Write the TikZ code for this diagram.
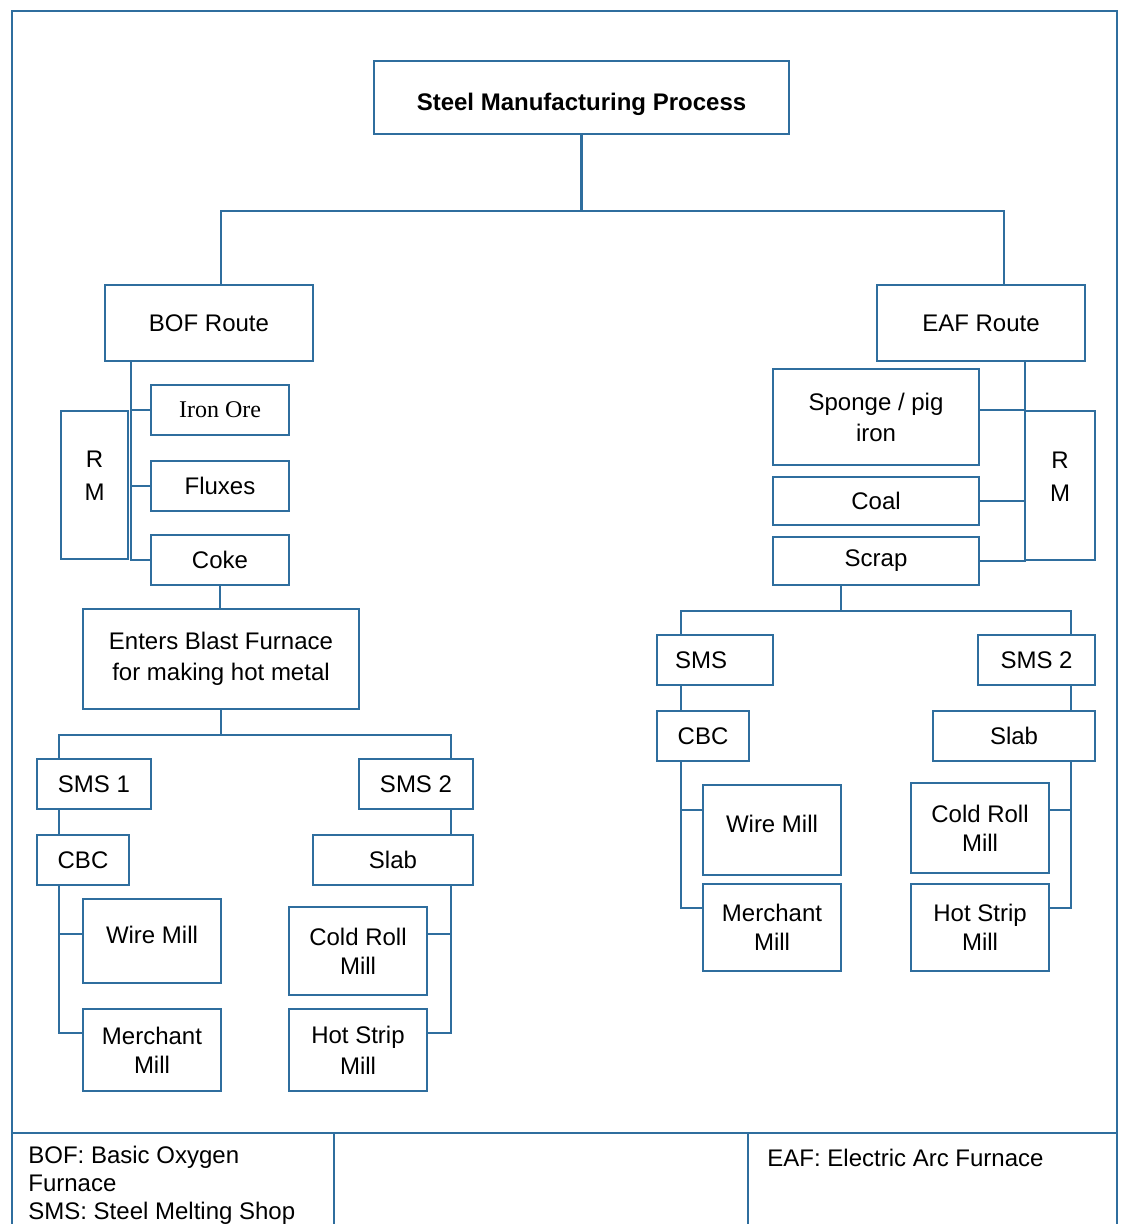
\documentclass[tikz,border=0pt]{standalone}
\usepackage{fontspec}
\setmainfont{Liberation Sans}
\newfontfamily\seriffont{Liberation Serif}
\definecolor{lineblue}{RGB}{47,110,158}
\newcommand\mybox[7][]{\node[box,#1,minimum width={(#4-#2)*0.5pt},minimum height={(#5-#3)*0.5pt}] (#6) at ({(#2+#4)/2},{(#3+#5)/2}) {#7};}
\begin{document}
\begin{tikzpicture}[x=0.5pt,y=-0.5pt,
  every node/.style={font=\fontsize{12}{14.5}\selectfont, text=black},
  box/.style={draw=lineblue, line width=1.1pt, inner sep=0pt, align=center},
  conn/.style={draw=lineblue, line width=1.1pt, line cap=rect},
  txt/.style={inner sep=0pt, align=left}]
\useasboundingbox (0,0) rectangle (1122,1224);
% outer frame and footer
\draw[conn] (12,1230) -- (12,11) -- (1117,11) -- (1117,1230);
\draw[conn] (12,1133) -- (1117,1133);
\draw[conn] (334,1133) -- (334,1230);
\draw[conn] (748,1133) -- (748,1230);
% boxes
\mybox{374}{61}{789}{134}{title}{\raisebox{-6.75pt}[0pt][0pt]{\bfseries Steel Manufacturing Process}}
\mybox{105}{285}{313}{361}{bof}{BOF Route}
\mybox{877}{285}{1085}{361}{eaf}{EAF Route}
\mybox[text depth=9pt]{61}{411}{128}{559}{rmL}{R\\[2pt]M}
\mybox{151}{385}{289}{435}{iron}{\seriffont Iron Ore}
\mybox{151}{461}{289}{511}{flux}{Fluxes}
\mybox{151}{535}{289}{585}{coke}{Coke}
\mybox{83}{609}{359}{709}{bf}{Enters Blast Furnace\\[1pt]for making hot metal}
\mybox{37}{759}{151}{809}{sms1}{SMS 1}
\mybox{359}{759}{473}{809}{sms2}{SMS 2}
\mybox{37}{835}{129}{885}{cbcL}{CBC}
\mybox{313}{835}{473}{885}{slabL}{Slab}
\mybox{83}{899}{221}{983}{wireL}{\raisebox{-1pt}[0pt][0pt]{Wire Mill}}
\mybox{83}{1009}{221}{1091}{merchL}{Merchant\\Mill}
\mybox{289}{907}{427}{995}{coldL}{Cold Roll\\Mill}
\mybox{289}{1009}{427}{1091}{hotL}{Hot Strip\\[1pt]Mill}
\mybox{773}{369}{979}{465}{sponge}{Sponge / pig\\[1pt]iron}
\mybox{773}{477}{979}{525}{coal}{Coal}
\mybox{773}{537}{979}{585}{scrap}{Scrap}
\mybox[text depth=9pt]{1025}{411}{1095}{560}{rmR}{R\\[2pt]M}
\mybox{657}{635}{773}{685}{smsR}{SMS\hspace*{14pt}}
\mybox{978}{635}{1095}{685}{sms2R}{SMS 2}
\mybox{657}{711}{749}{761}{cbcR}{CBC}
\mybox{933}{711}{1095}{761}{slabR}{Slab}
\mybox{703}{785}{841}{875}{wireR}{\raisebox{-1pt}[0pt][0pt]{Wire Mill}}
\mybox{703}{884}{841}{971}{merchR}{Merchant\\Mill}
\mybox{911}{783}{1049}{873}{coldR}{Cold Roll\\Mill}
\mybox{911}{884}{1049}{971}{hotR}{Hot Strip\\Mill}
% legend texts
\node[txt, anchor=base west, font=\fontsize{12}{14}\selectfont] (legL) at (28,1219) {BOF: Basic Oxygen\\Furnace\\SMS: Steel Melting Shop};
\node[txt, anchor=base west] (legR) at (767,1166) {EAF: Electric Arc Furnace};
% top connectors
\coordinate (jL) at (221,211);
\coordinate (jR) at (1004,211);
\draw[conn] (title.south) -- (title.south |- jL);
\draw[conn] (jL) -- (jR);
\draw[conn] (jL) -- (jL |- bof.north);
\draw[conn] (jR) -- (jR |- eaf.north);
% BOF raw materials
\coordinate (sL) at (131,0);
\draw[conn] (sL |- bof.south) -- (sL |- coke.west);
\draw[conn] (iron.west) -- (iron.west -| sL);
\draw[conn] (flux.west) -- (flux.west -| sL);
\draw[conn] (coke.west) -- (coke.west -| sL);
\draw[conn] (coke.south) -- (coke.south |- bf.north);
% BOF lower tree
\coordinate (bfL) at (59,735);
\coordinate (bfR) at (451,735);
\draw[conn] (bf.south) -- (bf.south |- bfL);
\draw[conn] (bfL) -- (bfR);
\draw[conn] (bfL) -- (bfL |- sms1.north);
\draw[conn] (bfR) -- (bfR |- sms2.north);
\draw[conn] (bfL |- sms1.south) -- (bfL |- cbcL.north);
\coordinate (wL) at (59,934);
\coordinate (mL) at (59,1033);
\draw[conn] (bfL |- cbcL.south) -- (mL) -- (mL -| merchL.west);
\draw[conn] (wL) -- (wL -| wireL.west);
\draw[conn] (bfR |- sms2.south) -- (bfR |- slabL.north);
\coordinate (cLR) at (451,934);
\coordinate (hLR) at (451,1033);
\draw[conn] (bfR |- slabL.south) -- (hLR) -- (hLR -| hotL.east);
\draw[conn] (cLR) -- (cLR -| coldL.east);
% EAF raw materials
\coordinate (sR) at (1025,0);
\draw[conn] (sR |- eaf.south) -- (sR |- rmR.south);
\draw[conn] (sponge.east |- rmR.north) -- (rmR.north west);
\draw[conn] (coal.east) -- (coal.east -| sR);
\draw[conn] (scrap.east) -- (scrap.east -| sR);
% EAF lower tree
\coordinate (scj) at (841,611);
\coordinate (sjL) at (681,611);
\coordinate (sjR) at (1071,611);
\draw[conn] (scj |- scrap.south) -- (scj);
\draw[conn] (sjL) -- (sjR);
\draw[conn] (sjL) -- (sjL |- smsR.north);
\draw[conn] (sjR) -- (sjR |- sms2R.north);
\draw[conn] (sjL |- smsR.south) -- (sjL |- cbcR.north);
\coordinate (wR) at (681,810);
\coordinate (mR) at (681,908);
\draw[conn] (sjL |- cbcR.south) -- (mR) -- (mR -| merchR.west);
\draw[conn] (wR) -- (wR -| wireR.west);
\draw[conn] (sjR |- sms2R.south) -- (sjR |- slabR.north);
\coordinate (cR) at (1071,810);
\coordinate (hR) at (1071,908);
\draw[conn] (sjR |- slabR.south) -- (hR) -- (hR -| hotR.east);
\draw[conn] (cR) -- (cR -| coldR.east);
\end{tikzpicture}
\end{document}
